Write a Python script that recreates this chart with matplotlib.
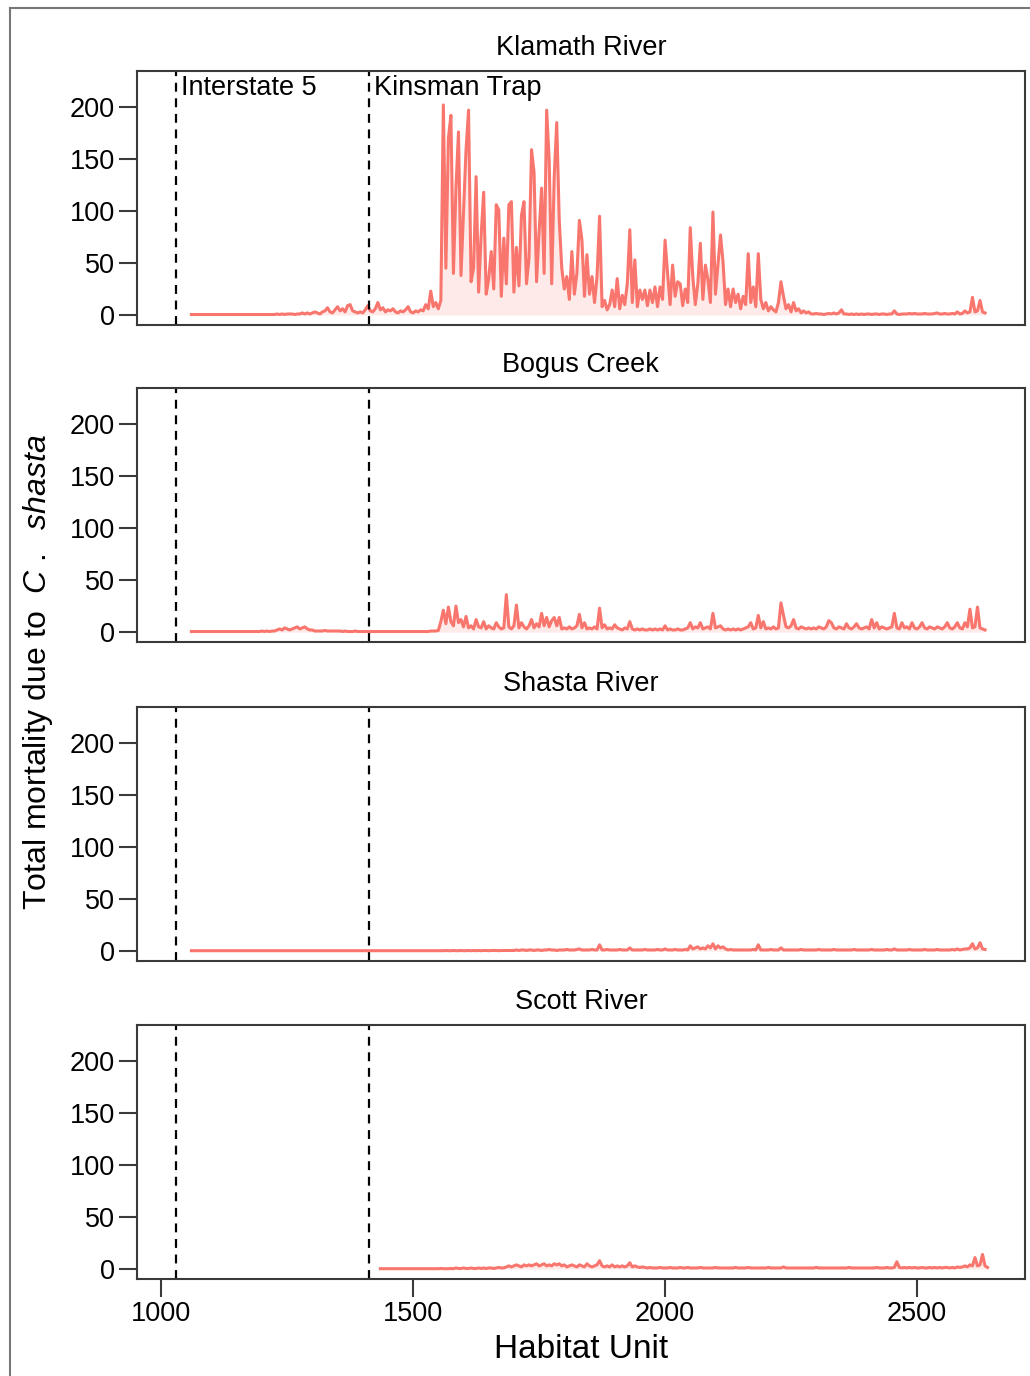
import matplotlib
matplotlib.use("Agg")
import matplotlib.pyplot as plt
from matplotlib.lines import Line2D
import numpy as np

plt.rcParams["font.family"] = ["Liberation Sans", "DejaVu Sans"]
plt.rcParams["mathtext.fontset"] = "custom"
plt.rcParams["mathtext.rm"] = "Liberation Sans"
plt.rcParams["mathtext.it"] = "Liberation Sans:italic"

# habitat units are sampled every 5 units
step = 5

rivers = ["Klamath River", "Bogus Creek", "Shasta River", "Scott River"]
starts = [1060, 1060, 1060, 1435]

klamath = [
    0.5, 0.5, 0.5, 0.5, 0.5, 0.5, 0.5, 0.5, 0.5, 0.5,
    0.5, 0.5, 0.5, 0.5, 0.5, 0.5, 0.5, 0.5, 0.5, 0.5,
    0.5, 0.5, 0.5, 0.5, 0.5, 0.5, 0.5, 0.5, 0.5, 0.5,
    0.5, 0.5, 0.5, 0.5, 1, 0.5, 1, 0.5, 1, 1,
    1, 0.5,
    1, 1, 2, 1, 2, 1, 2, 3, 2, 1, 3,
    4, 7, 3, 2, 5, 8, 4, 6, 3, 9,
    10, 4, 3, 2, 3, 2, 5, 9, 4, 3,
    6, 12, 5, 7, 3, 5, 4, 6, 3, 2,
    4, 3, 5, 8, 3, 2, 4, 3, 5, 4,
    10, 6, 23, 8, 12, 6, 14,
    202, 45, 170, 192, 40, 122, 176, 38, 99, 159,
    197, 32, 45, 133, 22, 77, 118, 20, 35, 61,
    25, 106, 101, 18, 74, 30, 106, 109, 22, 65,
    28, 96, 109, 30, 55, 159, 137, 32, 80, 122,
    40, 197, 149, 30, 133, 185, 91,
    45, 25, 37, 15, 61, 20, 40, 91, 72, 18,
    58, 20, 37, 12, 37, 95, 8,
    14, 5, 10, 24, 8, 35, 6, 19, 10, 30,
    82, 12, 53, 8, 24, 15, 24, 9, 24, 12,
    27, 8, 27, 15, 72, 40, 10, 48, 18, 32,
    30, 9, 25, 12, 84,
    37, 10, 30, 69, 15, 48, 34, 12, 99, 20,
    48, 77, 51, 10, 25, 8, 25, 12, 20, 6,
    18, 10, 59, 12, 27, 8, 59, 15, 6, 12,
    4, 8, 5, 3, 12, 32, 18, 6, 10, 3,
    12, 4, 6, 2, 4, 2, 3, 1,
    1, 1.5, 1, 1, 0.5, 1, 1.5, 1, 2, 1,
    2, 5, 1, 1, 0.5, 1, 0.5, 1, 0.5, 1,
    0.5, 1, 1, 0.5, 1, 1, 0.5, 1, 1, 0.5,
    1, 1, 4, 1, 0.5, 1, 1, 1, 1.5, 1,
    1.5, 1, 1, 1, 1.5, 1, 1, 1, 1.5, 2,
    1, 1, 1.5, 1, 1, 1.5, 1, 3, 1, 1.5,
    4, 2, 3, 17, 3, 4, 14, 3, 2,
]

bogus = [
    0.5, 0.5, 0.5, 0.5, 0.5, 0.5, 0.5, 0.5, 0.5, 0.5,
    0.5, 0.5, 0.5, 0.5, 0.5, 0.5, 0.5, 0.5, 0.5, 0.5,
    0.5, 0.5, 0.5, 0.5, 0.5, 0.5, 0.5, 0.5, 1, 0.5,
    1, 0.5, 1, 1,
    2, 3, 2, 4, 3, 2, 3, 4, 5, 3, 4, 5, 3, 2, 2,
    1, 1, 1, 1, 1.5, 1, 1, 1, 1, 1,
    1, 0.5, 1, 0.5, 0.5, 0.5, 1, 0.5, 0.5, 0.5,
    0.5, 0.5, 0.5, 0.5, 0.5, 0.5, 0.5, 0.5, 0.5, 0.5,
    0.5, 0.5, 0.5, 0.5, 0.5, 0.5, 0.5, 0.5, 0.5, 0.5,
    0.5, 0.5, 0.5, 0.5, 0.5, 0.5, 1, 1, 1, 1.5,
    10,
    21, 8, 24, 10, 6, 25, 9, 12, 5, 15,
    4, 6, 3, 12, 5, 4, 10, 3, 6, 4,
    3, 9, 5, 3, 4, 36, 5, 3, 6, 26,
    4, 9, 5, 3, 6, 12, 4, 8, 5, 18,
    6, 14, 5, 11, 14, 6, 14,
    3, 4, 3, 5, 3, 4, 6, 17, 4, 9,
    3, 4, 3, 5, 3, 23, 4, 7, 3, 4,
    3, 7, 4, 3, 2, 4, 3, 10, 3, 2,
    3, 2, 3, 2, 2, 3, 2, 3, 2, 3,
    2, 6, 2, 3, 2, 2, 3, 2, 2, 3,
    4, 9, 3, 5, 4, 9, 3, 4, 5, 3,
    18, 4, 5, 6, 3, 2, 3, 2, 3, 2,
    3, 2, 3, 4, 5, 9, 3, 4, 16, 4,
    10, 3, 4, 3, 5, 3, 4, 28, 16, 5,
    4, 6, 12, 4, 3, 5, 4, 3, 4, 3,
    4, 3, 5, 4, 3, 5, 11, 9, 4, 3,
    5, 4, 3, 8, 4, 3, 5, 8, 4, 3,
    4, 5, 3, 12, 4, 9, 3, 5, 4, 3,
    4, 5, 18, 4, 3, 9, 4, 5, 3, 9,
    4, 3, 5, 9, 4, 3, 5, 4, 3, 5,
    4, 3, 5, 9, 4, 3, 5, 9, 4, 3,
    9, 5, 22, 4, 5, 24, 4, 3, 2,
]

shasta = [
    0.3, 0.3, 0.3, 0.3, 0.3, 0.3, 0.3, 0.3, 0.3, 0.3,
    0.3, 0.3, 0.3, 0.3, 0.3, 0.3, 0.3, 0.3, 0.3, 0.3,
    0.3, 0.3, 0.3, 0.3, 0.3, 0.3, 0.3, 0.3, 0.3, 0.3,
    0.3, 0.3, 0.3, 0.3, 0.3, 0.3, 0.3, 0.3, 0.3, 0.3,
    0.3, 0.3, 0.3, 0.3, 0.3, 0.3, 0.3, 0.3, 0.3, 0.3,
    0.3, 0.3, 0.3, 0.3, 0.3, 0.3, 0.3, 0.3, 0.3, 0.3,
    0.3, 0.3, 0.3, 0.3, 0.3, 0.3, 0.3, 0.3, 0.3, 0.3,
    0.3, 0.3, 0.3, 0.3, 0.3, 0.3, 0.3, 0.3, 0.3, 0.3,
    0.3, 0.3, 0.3, 0.3, 0.3, 0.3, 0.3, 0.3, 0.3, 0.3,
    0.3, 0.3, 0.3, 0.3, 0.3, 0.3, 0.3, 0.3, 0.3, 0.3,
    0.3, 0.5, 0.3, 0.3, 0.5, 0.3, 0.3, 0.5, 0.3, 0.3,
    0.5, 0.3, 0.5, 0.3, 0.5, 0.3, 0.5, 0.5, 0.3, 0.5,
    0.5, 0.5, 0.3, 0.5, 0.5, 0.5, 0.5, 0.5,
    0.5, 1, 0.5, 1, 1, 0.5, 1, 1, 0.5, 1,
    1, 0.5, 1, 1, 1.5, 1, 1, 0.5, 1, 1,
    1, 1.5, 1, 1, 1, 1.5, 2, 1, 1, 1,
    1, 1.5, 1, 1, 6, 1, 1, 1.5, 1, 1,
    1, 1, 1.5, 1, 1, 1, 3, 1, 1, 1,
    1, 1, 1.5, 1, 1, 1, 1, 1.5, 1, 1,
    2, 1, 1, 1, 1.5, 1, 1, 1, 1.5, 1,
    5, 2, 3, 4, 2, 3, 2, 5, 3, 7,
    2, 5, 3, 4, 2, 1, 1.5, 1, 1, 1,
    1, 1, 1, 1, 1, 1.5, 1, 6, 1, 1,
    1, 1, 1.5, 1, 1, 1, 3, 1, 1, 1,
    1, 1, 1, 1, 1.5, 1, 1, 1, 1, 1,
    1, 1.5, 1, 1, 1, 1, 1, 1.5, 1, 1,
    1, 1, 1, 1, 1, 1.5, 1, 1, 1, 1,
    1, 1, 1.5, 1, 1, 1, 1, 1, 1.5, 1,
    1, 2, 1, 1, 1, 1, 1, 1.5, 1, 1,
    1, 1, 1, 1.5, 1, 1, 1, 1, 1.5, 1,
    1, 1, 1, 1, 1.5, 1, 2, 1, 1.5, 2,
    2, 3, 7, 2, 3, 8, 2, 1.5,
]

scott = [
    0.3, 0.3, 0.3, 0.3, 0.3, 0.3, 0.3, 0.3, 0.3, 0.3,
    0.3, 0.3, 0.3, 0.3, 0.3, 0.3, 0.3, 0.3, 0.3, 0.3,
    0.3, 0.3, 0.3, 0.3, 0.5, 0.3, 0.3, 0.3, 0.5, 0.3,
    1, 0.5, 0.5, 1, 0.5, 0.5, 1, 0.5, 0.5, 1,
    0.5, 1, 0.5, 1, 1, 0.5, 1, 1.5, 1, 1,
    2, 3, 2, 3, 4, 3, 2, 4, 3, 4,
    3, 4, 5, 3, 4, 5, 3, 4, 3, 5,
    4, 5, 3, 4, 2, 3, 4, 3, 2, 4,
    3, 2, 5, 3, 2, 3, 4, 8, 3, 2,
    3, 2, 4, 2, 3, 2, 3, 2, 3, 6,
    2, 3, 2, 1.5, 2, 1.5, 1, 1.5, 1, 1,
    1, 1.5, 1, 1, 1, 1.5, 1, 1, 1, 1.5,
    1, 1, 1.5, 1, 1, 1, 1, 1.5, 1, 1,
    1, 1, 1, 1.5, 1, 1, 1, 1, 1, 1,
    1, 1.5, 1, 1, 1, 1, 1.5, 1, 1, 1,
    1, 1, 1, 1, 1.5, 1, 1, 1, 1, 1,
    2, 1, 1, 1, 1, 1, 1, 1, 1, 1,
    1, 1, 1, 1.5, 1, 1, 1, 1, 1, 1,
    1, 1, 1, 1, 1, 1, 1.5, 1, 1, 1,
    1, 1, 1, 1, 1, 1, 1, 1.5, 1, 1,
    1, 1.5, 1, 1, 1.5, 7, 1.5, 1, 1.5, 1,
    1.5, 1, 1.5, 1, 1, 1.5, 1, 1, 1.5, 1,
    1.5, 1, 1.5, 1, 1.5, 1.5, 1, 1.5, 1, 2,
    1.5, 2, 3, 2, 4, 3, 11, 3, 4, 14,
    3, 1.5,
]

series = [klamath, bogus, shasta, scott]

landmarks = [1030, 1413]
landmark_names = ["Interstate 5", "Kinsman Trap"]

red = "#F8766D"
frame = "#3a3a3a"

fig = plt.figure(figsize=(10.3, 13.76), dpi=100)

bottoms = [0.7638, 0.5334, 0.3016, 0.0705]
for i, (name, start, vals) in enumerate(zip(rivers, starts, series)):
    ax = fig.add_axes([0.133, bottoms[i], 0.862, 0.1846])
    y = np.array(vals)
    x = start + step * np.arange(len(y))
    ax.fill_between(x, 0, y, color=red, alpha=0.15, lw=0)
    ax.plot(x, y, color=red, lw=2.2)
    for lm in landmarks:
        ax.axvline(lm, color="black", lw=1.6, ls=(0, (4, 3)))
    ax.set_xlim(952, 2714)
    ax.set_ylim(-9.6, 234.6)
    ax.set_yticks([0, 50, 100, 150, 200])
    ax.tick_params(axis="both", direction="out", length=13, width=1.5,
                   color=frame, labelsize=19.5, pad=3)
    if i < 3:
        ax.set_xticks([])
    else:
        ax.set_xticks([1000, 1500, 2000, 2500])
    for sp in ax.spines.values():
        sp.set_color(frame)
        sp.set_linewidth(1.5)
    ax.text(0.5, 1.09, name, transform=ax.transAxes, ha="center",
            va="center", fontsize=19.5)
    if i == 0:
        for lm, lab in zip(landmarks, landmark_names):
            ax.text(lm + 10, 218, lab, ha="left", va="center", fontsize=19.5)

fig.text(0.037, 1 - 672 / 1376,
         "Total mortality due to  $\\mathit{C}\\ .\\ \\ \\mathit{shasta}$",
         rotation=90, ha="center", va="center", fontsize=23)
fig.text(581 / 1030, 1 - 1350 / 1376, "Habitat Unit", ha="center",
         va="center", fontsize=24)

# thin outer border of the figure
fig.add_artist(Line2D([10 / 1030, 10 / 1030], [0, 1 - 8 / 1376],
                      transform=fig.transFigure, color="#777777", lw=1.5))
fig.add_artist(Line2D([10 / 1030, 1], [1 - 8 / 1376, 1 - 8 / 1376],
                      transform=fig.transFigure, color="#777777", lw=1.5))

fig.savefig("out.png", dpi=100)
